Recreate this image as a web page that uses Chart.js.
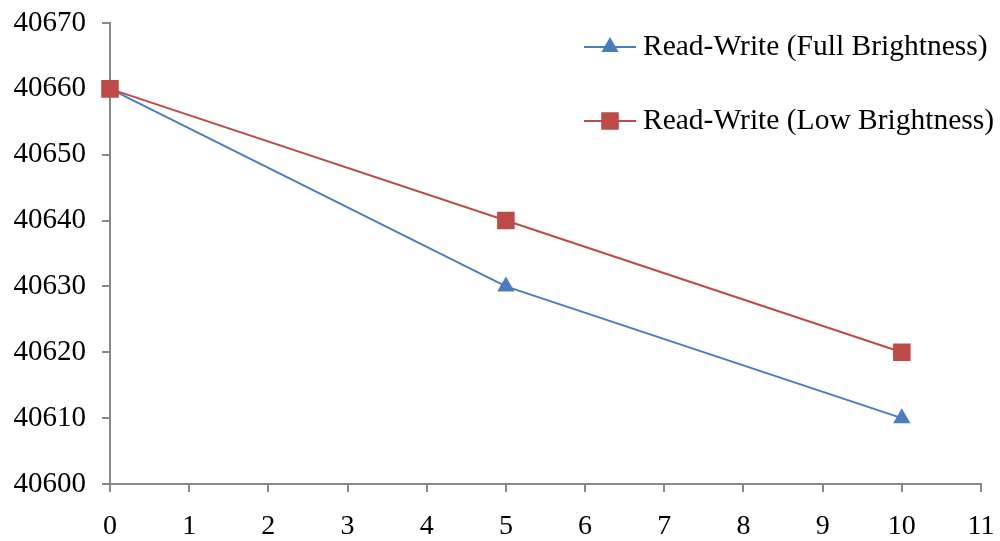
<!DOCTYPE html>
<html lang="en">
<head>
<meta charset="UTF-8">
<title>Read-Write Brightness</title>
<script src="https://cdn.jsdelivr.net/npm/chart.js"></script>
<style>
  html, body { margin: 0; padding: 0; background: #fff; }
  #wrap { width: 1000px; height: 541px; }
</style>
</head>
<body>
<div id="wrap"><canvas id="myChart" width="1000" height="541"></canvas></div>
<script>
// data
const xValues = [0, 5, 10];
const fullBrightness = [40660, 40630, 40610];
const lowBrightness = [40660, 40640, 40620];
const seriesNames = ['Read-Write (Full Brightness)', 'Read-Write (Low Brightness)'];

const FONT = '"Liberation Serif", "Times New Roman", serif';
const AXIS = '#898989';

// legend drawn by hand: line with the marker in the middle
const lineLegend = {
  id: 'lineLegend',
  afterDraw(chart) {
    const ctx = chart.ctx;
    const x0 = 584, x1 = 636, textX = 643;
    const rows = [47, 121];
    chart.data.datasets.forEach((ds, i) => {
      const y = rows[i];
      ctx.save();
      ctx.strokeStyle = ds.borderColor;
      ctx.lineWidth = 2;
      ctx.beginPath();
      ctx.moveTo(x0, y);
      ctx.lineTo(x1, y);
      ctx.stroke();
      Chart.helpers.drawPoint(ctx, {
        pointStyle: ds.pointStyle,
        radius: ds.pointRadius,
        borderWidth: 1
      }, (x0 + x1) / 2, y);
      ctx.fillStyle = ds.pointBackgroundColor;
      ctx.fill();
      ctx.fillStyle = '#000';
      ctx.font = '29.5px ' + FONT;
      ctx.textBaseline = 'middle';
      ctx.fillText(ds.label, textX, y);
      ctx.restore();
    });
  }
};

const ctx = document.getElementById('myChart').getContext('2d');
const chart = new Chart(ctx, {
  type: 'line',
  data: {
    datasets: [
      {
        label: seriesNames[0],
        data: xValues.map((x, i) => ({ x: x, y: fullBrightness[i] })),
        borderColor: '#4A7EBB',
        backgroundColor: '#4A7EBB',
        pointBackgroundColor: '#4A7EBB',
        pointBorderColor: '#4A7EBB',
        pointStyle: 'triangle',
        pointRadius: 8,
        borderWidth: 2,
        clip: false,
        order: 1   // drawn under the red series
      },
      {
        label: seriesNames[1],
        data: xValues.map((x, i) => ({ x: x, y: lowBrightness[i] })),
        borderColor: '#BE4B48',
        backgroundColor: '#BE4B48',
        pointBackgroundColor: '#BE4B48',
        pointBorderColor: '#BE4B48',
        pointStyle: 'rect',
        pointRadius: 11,
        borderWidth: 2,
        clip: false,
        order: 0
      }
    ]
  },
  options: {
    responsive: false,
    animation: false,
    layout: { padding: { top: 23, right: 19, left: 0, bottom: 0 } },
    plugins: {
      legend: { display: false },
      tooltip: { enabled: false }
    },
    scales: {
      x: {
        type: 'linear',
        min: 0,
        max: 11,
        ticks: { stepSize: 1, color: '#000', font: { family: FONT, size: 28 }, padding: 18 },
        grid: { drawOnChartArea: false, color: AXIS, lineWidth: 2, tickLength: 8 },
        border: { color: AXIS, width: 2 },
        afterFit: s => { s.height = 57; s.paddingLeft = 0; s.paddingRight = 0; }
      },
      y: {
        min: 40600,
        max: 40670,
        ticks: {
          stepSize: 10, color: '#000', font: { family: FONT, size: 29 }, padding: 16,
          callback: v => String(v)
        },
        grid: { drawOnChartArea: false, color: AXIS, lineWidth: 2, tickLength: 8 },
        border: { color: AXIS, width: 2 },
        afterFit: s => { s.width = 110; s.paddingTop = 0; s.paddingBottom = 0; }
      }
    }
  },
  plugins: [lineLegend]
});
</script>
</body>
</html>
